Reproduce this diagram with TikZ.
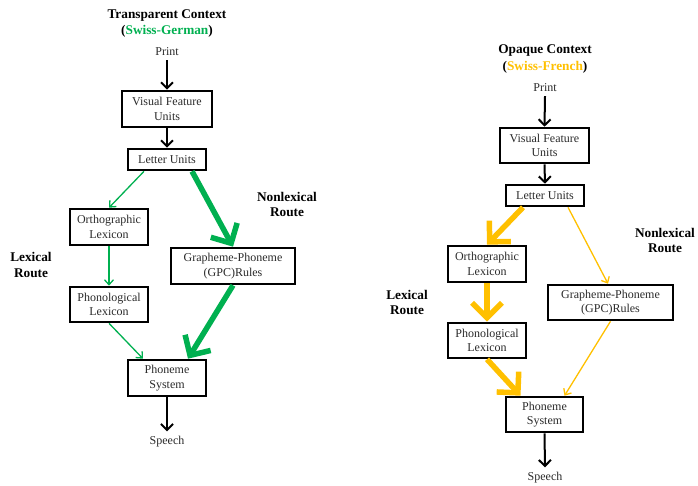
\documentclass[tikz,border=0pt]{standalone}
\usepackage{fontspec}
\setmainfont{Liberation Serif}
\usetikzlibrary{arrows.meta}
\definecolor{grn}{HTML}{00B050}
\definecolor{ylw}{HTML}{FFC000}
\definecolor{txt}{HTML}{2A2A2A}
\begin{document}
\begin{tikzpicture}[x=1pt,y=-1pt,
  box/.style={draw=black, line width=2.6pt, inner sep=0pt, align=center, font=\fontsize{12}{14.5}\selectfont, text=txt},
  lbl/.style={inner sep=0pt, align=center, font=\fontsize{12}{14.5}\selectfont, text=txt},
  ttl/.style={inner sep=0pt, align=center, font=\fontsize{13.3}{16.5}\selectfont\bfseries},
  route/.style={inner sep=0pt, align=center, font=\fontsize{13.3}{15.5}\selectfont\bfseries},
  blk/.style={draw=black, line width=2pt, -{Straight Barb[length=6pt,width=12pt]}},
  thin/.style={line width=1.3pt, -{Straight Barb[length=5pt,width=9pt]}},
  thick/.style={line width=5.5pt, -{Straight Barb[length=15pt,width=30pt]}}]
\path[use as bounding box] (0,0) rectangle (698,485);

% ---------- Left: transparent ----------
\node[ttl] (tL) at (167,23.5) {Transparent Context\\(\textcolor{grn}{Swiss-German})};
\node[lbl] (prL) at (167,52) {Print};
\node[box, minimum width=90pt, minimum height=36pt] (vfuL) at (167,109) {Visual Feature\\Units};
\node[box, minimum width=78pt, minimum height=21pt] (letL) at (167,159.5) {Letter Units};
\node[box, minimum width=78pt, minimum height=36pt] (orthL) at (109,227) {Orthographic\\Lexicon};
\node[box, minimum width=78pt, minimum height=35pt] (phonL) at (109,304.5) {Phonological\\Lexicon};
\node[box, minimum width=124pt, minimum height=36pt] (gpcL) at (233,266) {Grapheme-Phoneme\\(GPC)Rules};
\node[box, minimum width=78pt, minimum height=36pt] (phmL) at (167,378) {Phoneme\\System};
\node[lbl] (spL) at (167,442) {Speech};
\node[route] (lexL) at (31,265) {Lexical\\Route};
\node[route] (nlxL) at (287,204.5) {Nonlexical\\Route};

\draw[blk] ([yshift=-4pt]prL.south) -- (vfuL.north);
\draw[blk] (vfuL.south) -- (letL.north);
\draw[blk] (phmL.south) -- ([yshift=5pt]spL.north);
\draw[thin, grn] ([xshift=-23pt]letL.south) -- (orthL.north);
\draw[thin, grn] (orthL.south) -- (phonL.north);
\draw[thin, grn] (phonL.south) -- ([xshift=-24pt]phmL.north);
\draw[thick, grn] ([xshift=25pt]letL.south) -- (gpcL.north);
\draw[thick, grn] (gpcL.south) -- ([xshift=21pt]phmL.north);

% ---------- Right: opaque ----------
\node[ttl] (tR) at (545,59) {Opaque Context\\(\textcolor{ylw}{Swiss-French})};
\node[lbl] (prR) at (545,88) {Print};
\node[box, minimum width=89pt, minimum height=35pt] (vfuR) at (544.5,145.5) {Visual Feature\\Units};
\node[box, minimum width=78pt, minimum height=21pt] (letR) at (545,195.5) {Letter Units};
\node[box, minimum width=78pt, minimum height=36pt] (orthR) at (487,264) {Orthographic\\Lexicon};
\node[box, minimum width=78pt, minimum height=35pt] (phonR) at (487,340.5) {Phonological\\Lexicon};
\node[box, minimum width=125pt, minimum height=35pt] (gpcR) at (610.5,302.5) {Grapheme-Phoneme\\(GPC)Rules};
\node[box, minimum width=77pt, minimum height=35pt] (phmR) at (544.5,414.5) {Phoneme\\System};
\node[lbl] (spR) at (545,478) {Speech};
\node[route] (lexR) at (407,302.5) {Lexical\\Route};
\node[route] (nlxR) at (665,240.5) {Nonlexical\\Route};

\draw[blk] ([yshift=-4pt]prR.south) -- (vfuR.north);
\draw[blk] (vfuR.south) -- (letR.north);
\draw[blk] (phmR.south) -- ([yshift=5pt]spR.north);
\draw[thick, ylw] ([xshift=-22pt]letR.south) -- (orthR.north);
\draw[thick, ylw] (orthR.south) -- (phonR.north);
\draw[thick, ylw] (phonR.south) -- ([xshift=-24pt]phmR.north);
\draw[thin, ylw] ([xshift=23pt]letR.south) -- ([xshift=-2.5pt]gpcR.north);
\draw[thin, ylw] (gpcR.south) -- ([xshift=20pt]phmR.north);
\end{tikzpicture}
\end{document}
